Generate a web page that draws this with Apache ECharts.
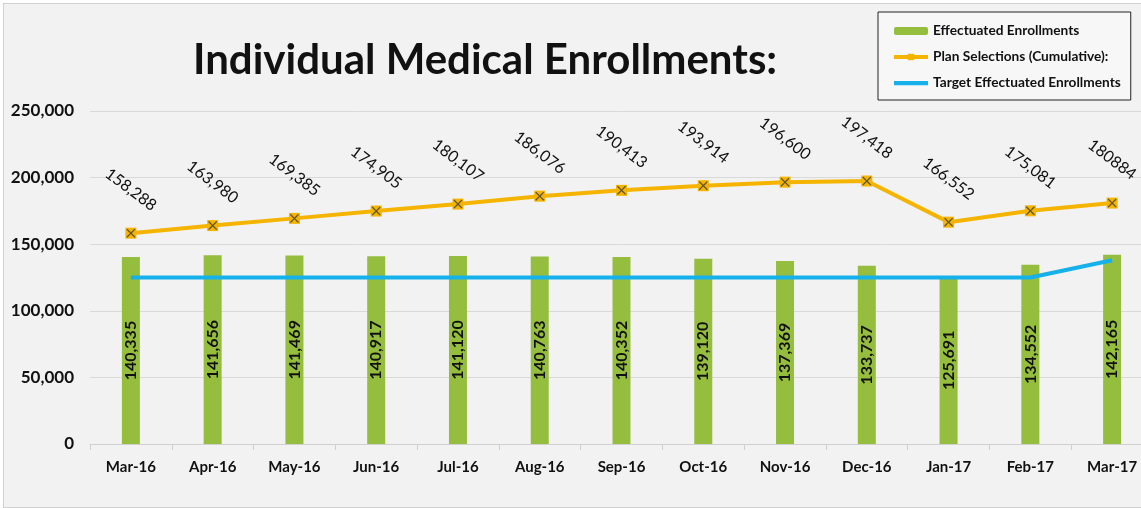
<!DOCTYPE html>
<html>
<head>
<meta charset="utf-8">
<script src="https://cdn.jsdelivr.net/npm/echarts@6/dist/echarts.min.js"></script>
<style>
html, body { margin: 0; padding: 0; background: #fff; overflow: hidden; }
#main { position: absolute; left: 3px; top: 3px; width: 1165px; height: 503px; background: #f2f2f2; border-left: 1px solid #d0d0d0; border-top: 1px solid #d0d0d0; border-bottom: 1px solid #d0d0d0; }
</style>
</head>
<body>
<div id="main"></div>
<script>
var months = ['Mar-16', 'Apr-16', 'May-16', 'Jun-16', 'Jul-16', 'Aug-16', 'Sep-16', 'Oct-16', 'Nov-16', 'Dec-16', 'Jan-17', 'Feb-17', 'Mar-17'];
var effectuated = [140335, 141656, 141469, 140917, 141120, 140763, 140352, 139120, 137369, 133737, 125691, 134552, 142165];
var planSelections = [158288, 163980, 169385, 174905, 180107, 186076, 190413, 193914, 196600, 197418, 166552, 175081, 180884];
var planLabels = ['158,288', '163,980', '169,385', '174,905', '180,107', '186,076', '190,413', '193,914', '196,600', '197,418', '166,552', '175,081', '180884'];
var target = [125000, 125000, 125000, 125000, 125000, 125000, 125000, 125000, 125000, 125000, 125000, 125000, 138000];
var yTicks = [0, 50000, 100000, 150000, 200000, 250000];

var font = 'Lato, "Open Sans", sans-serif';
var crossPath = 'path://M0,1 L1,0 L5,4 L9,0 L10,1 L6,5 L10,9 L9,10 L5,6 L1,10 L0,9 L4,5 Z';
var thinBar = 'path://M0,0 L32,0 L32,4 L0,4 Z';

var myChart = echarts.init(document.getElementById('main'));
var option = {
    backgroundColor: '#f2f2f2',
    textStyle: {fontFamily: font},
    title: {
        text: 'Individual Medical Enrollments:',
        left: 184,
        top: 30,
        textStyle: {fontSize: 42, fontWeight: 'bold', color: '#111', fontFamily: font}
    },
    legend: {
        data: [
            {name: 'Effectuated Enrollments'},
            {name: 'Plan Selections (Cumulative):', lineStyle: {width: 4}},
            {name: 'Target Effectuated Enrollments', icon: thinBar}
        ],
        orient: 'vertical',
        left: 874,
        top: 8,
        padding: [12, 10, 10, 14],
        itemGap: 12,
        itemWidth: 34,
        itemHeight: 8,
        backgroundColor: '#f7f7f7',
        borderColor: '#222',
        borderWidth: 1,
        textStyle: {fontSize: 13.7, fontWeight: 'bold', color: '#111', fontFamily: font}
    },
    grid: {left: 86, top: 107, width: 1063, height: 333},
    xAxis: {
        type: 'category',
        data: months,
        axisLine: {show: true, lineStyle: {color: '#d0d0d0'}},
        axisTick: {show: true, length: 6, lineStyle: {color: '#d0d0d0'}},
        axisLabel: {fontSize: 15, fontWeight: 'bold', color: '#111', margin: 16}
    },
    yAxis: {
        type: 'value',
        min: yTicks[0],
        max: yTicks[yTicks.length - 1],
        interval: 50000,
        axisLine: {show: false},
        axisTick: {show: false},
        splitLine: {lineStyle: {color: '#d9d9d9', width: 1}},
        axisLabel: {
            fontSize: 17, fontWeight: 'bold', color: '#111', margin: 16,
            formatter: function (v) { return v === 0 ? '0' : v.toLocaleString('en-US'); }
        }
    },
    series: [
        {
            name: 'Effectuated Enrollments',
            type: 'bar',
            data: effectuated,
            barWidth: 18,
            itemStyle: {color: '#95bd3e'},
            label: {
                show: true,
                position: 'inside',
                rotate: 90,
                fontSize: 16,
                fontWeight: 'bold',
                color: '#111',
                formatter: function (p) { return p.value.toLocaleString('en-US'); }
            },
            z: 2
        },
        {
            name: 'Target Effectuated Enrollments',
            type: 'line',
            data: target,
            symbol: 'none',
            lineStyle: {color: '#16b0ea', width: 4},
            itemStyle: {color: '#16b0ea'},
            z: 3
        },
        {
            name: 'Plan Selections (Cumulative):',
            type: 'line',
            data: planSelections,
            symbol: 'rect',
            symbolSize: 11,
            lineStyle: {color: '#f5b400', width: 4},
            itemStyle: {color: '#f5b400'},
            label: {
                show: true,
                position: 'top',
                distance: 38,
                rotate: -37,
                align: 'center',
                verticalAlign: 'middle',
                fontSize: 16,
                color: '#111',
                formatter: function (p) { return planLabels[p.dataIndex]; }
            },
            z: 4
        },
        {
            name: 'cross',
            type: 'scatter',
            data: planSelections,
            symbol: crossPath,
            symbolSize: 9,
            itemStyle: {color: '#3a3a3a'},
            silent: true,
            z: 5
        }
    ]
};
myChart.setOption(option);
</script>
</body>
</html>
